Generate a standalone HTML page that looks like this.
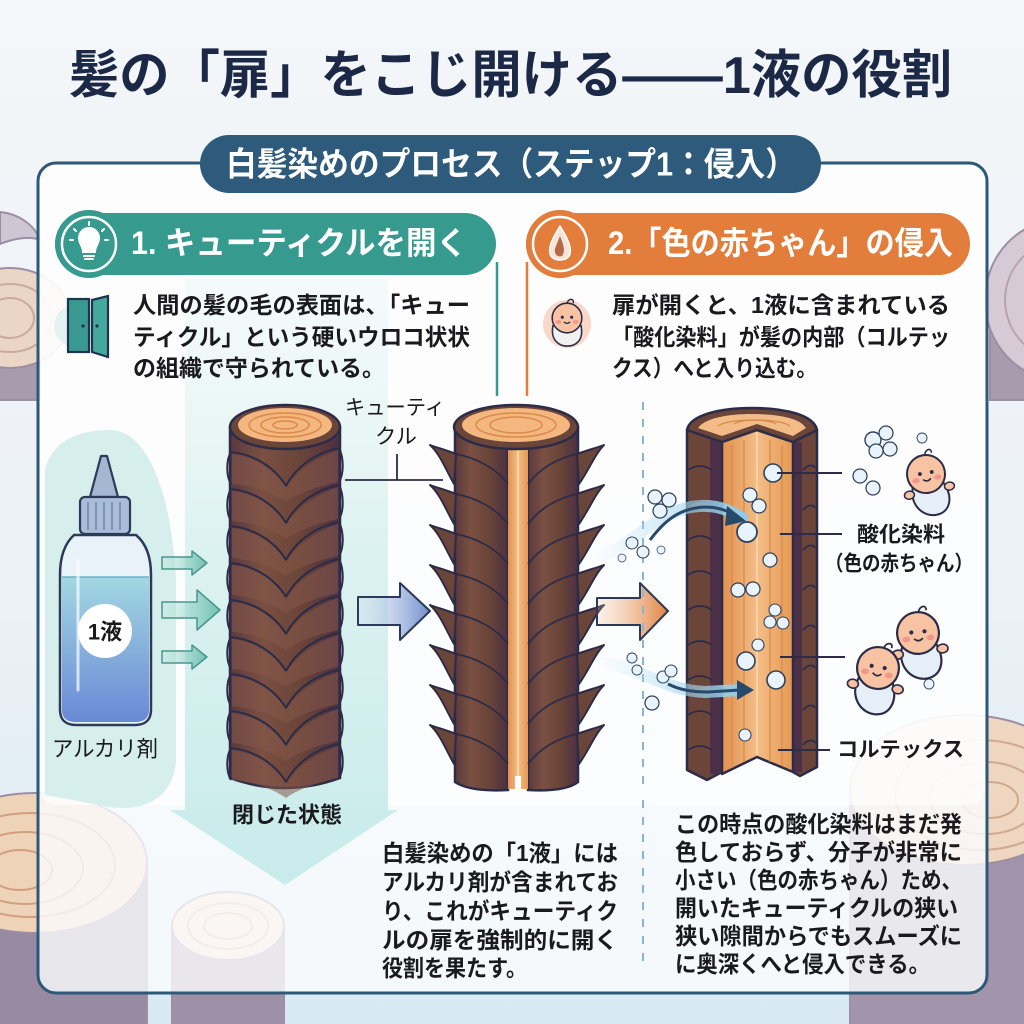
<!DOCTYPE html>
<html><head><meta charset="utf-8">
<style>
html,body{margin:0;padding:0;background:#eef3f7;}
svg{display:block;}
text{font-family:"Liberation Sans","Noto Sans CJK JP",sans-serif;}
</style></head>
<body>
<svg width="1024" height="1024" viewBox="0 0 1024 1024" xmlns="http://www.w3.org/2000/svg">
<defs>
  <linearGradient id="bg" x1="0" y1="0" x2="0" y2="1">
    <stop offset="0" stop-color="#f4f6f9"/><stop offset="0.6" stop-color="#ebf1f6"/><stop offset="1" stop-color="#d8e9f3"/>
  </linearGradient>
  <linearGradient id="bark" x1="0" y1="0" x2="1" y2="0">
    <stop offset="0" stop-color="#5a3a3e"/><stop offset="0.3" stop-color="#7a5042"/><stop offset="0.65" stop-color="#6a4438"/><stop offset="1" stop-color="#4c3042"/>
  </linearGradient>
  <linearGradient id="core" x1="0" y1="0" x2="1" y2="0">
    <stop offset="0" stop-color="#e2914f"/><stop offset="0.5" stop-color="#f4bd86"/><stop offset="1" stop-color="#e59853"/>
  </linearGradient>
  <linearGradient id="shaft" x1="0" y1="0" x2="0" y2="1">
    <stop offset="0" stop-color="#e8f6f6" stop-opacity="0.4"/><stop offset="0.45" stop-color="#dcf2f0"/><stop offset="1" stop-color="#c8ebeb"/>
  </linearGradient>
  <linearGradient id="liquid" x1="0" y1="0" x2="0" y2="1">
    <stop offset="0" stop-color="#a2d8e2"/><stop offset="1" stop-color="#6a88d6"/>
  </linearGradient>
  <linearGradient id="tarr" x1="0" y1="0" x2="1" y2="0">
    <stop offset="0" stop-color="#a8e0d4" stop-opacity="0.2"/><stop offset="1" stop-color="#6fc0b0"/>
  </linearGradient>
  <linearGradient id="barr" x1="0" y1="0" x2="1" y2="0">
    <stop offset="0" stop-color="#c9d6ee" stop-opacity="0.2"/><stop offset="1" stop-color="#6f8ccc"/>
  </linearGradient>
  <linearGradient id="oarr" x1="0" y1="0" x2="1" y2="0">
    <stop offset="0" stop-color="#f3c49c" stop-opacity="0.2"/><stop offset="1" stop-color="#e0813f"/>
  </linearGradient>
  <linearGradient id="swoosh" x1="0" y1="0" x2="1" y2="0">
    <stop offset="0" stop-color="#bfe3f5" stop-opacity="0"/><stop offset="1" stop-color="#8fcbe8"/>
  </linearGradient>
  <g id="r1">
    <path d="M232,2 C252,4 274,16 286,36 C296,20 314,6 338,-2 L338,30 C320,34 300,40 286,50 C272,40 252,34 232,32 Z" fill="#85584a" opacity="0.55"/>
    <path d="M231,0 C252,2 274,14 286,34" fill="none" stroke="#2c2c48" stroke-width="2"/>
    <path d="M339,-4 C318,0 297,13 286,34" fill="none" stroke="#2c2c48" stroke-width="2"/>
    <path d="M231,0 C226,8 226,24 231,32" fill="none" stroke="#2c2c48" stroke-width="2"/>
    <path d="M339,-4 C344,6 344,22 339,30" fill="none" stroke="#2c2c48" stroke-width="2"/>
  </g>
  <g id="r2">
    <path d="M456,2 C446,-2 438,-4 430,-7 C440,2 445,16 454,32 Z" fill="#6b4539" stroke="#2c2c48" stroke-width="2" stroke-linejoin="round"/>
    <path d="M508,32 C496,16 476,6 456,2" fill="none" stroke="#2c2c48" stroke-width="1.8"/>
    <path d="M577,2 C588,-2 596,-4 604,-7 C595,2 590,16 579,32 Z" fill="#6b4539" stroke="#2c2c48" stroke-width="2" stroke-linejoin="round"/>
    <path d="M528,32 C540,16 558,6 577,2" fill="none" stroke="#2c2c48" stroke-width="1.8"/>
  </g>
  <g id="baby">
    <path d="M-15,10 C-22,28 -10,42 3,42 C17,42 24,28 15,10 Z" fill="#e6eef8" stroke="#2c2c48" stroke-width="2"/>
    <ellipse cx="-20" cy="18" rx="5" ry="4" fill="#f7c3a3" stroke="#2c2c48" stroke-width="1.5"/>
    <ellipse cx="21" cy="16" rx="5" ry="4" fill="#f7c3a3" stroke="#2c2c48" stroke-width="1.5"/>
    <circle r="19" fill="#f7c3a3" stroke="#2c2c48" stroke-width="2"/>
    <path d="M2,-19 C4,-25 10,-25 9,-20" fill="none" stroke="#2c2c48" stroke-width="1.6"/>
    <ellipse cx="-11" cy="5" rx="3.6" ry="2.6" fill="#f2968b"/>
    <ellipse cx="11" cy="5" rx="3.6" ry="2.6" fill="#f2968b"/>
    <circle cx="-6" cy="-1" r="1.9" fill="#2c2c48"/>
    <circle cx="6" cy="-1" r="1.9" fill="#2c2c48"/>
    <path d="M-4,5 Q0,9 4,5" fill="none" stroke="#2c2c48" stroke-width="1.6"/>
  </g>
  <g id="bub"><circle r="1" fill="#e8f3fb" stroke="#30425e" stroke-width="0.18"/></g>
</defs>

<!-- background -->
<rect width="1024" height="1024" fill="url(#bg)"/>

<!-- background logs -->
<g stroke="#9d8ea3" stroke-width="2">
  <path d="M0,212 C20,214 35,226 40,240 C30,236 15,238 0,244 Z" fill="#cfc6d4"/>
  <rect x="-60" y="318" width="100" height="82" fill="#a99bae"/>
  <ellipse cx="10" cy="318" rx="60" ry="50" fill="#ead5c6"/>
  <ellipse cx="10" cy="318" rx="42" ry="34" fill="none" stroke="#c9aa9c"/>
  <ellipse cx="10" cy="318" rx="24" ry="20" fill="none" stroke="#c9aa9c"/>
  <rect x="990" y="300" width="60" height="100" fill="#a99bae"/>
  <ellipse cx="1060" cy="300" rx="75" ry="80" fill="#d6cad6"/>
  <ellipse cx="1060" cy="300" rx="55" ry="58" fill="none" stroke="#b8a2b0"/>
  <ellipse cx="1060" cy="300" rx="35" ry="38" fill="none" stroke="#b8a2b0"/>
  <ellipse cx="1060" cy="300" rx="18" ry="20" fill="none" stroke="#b8a2b0"/>
  <!-- bottom right stump -->
  <rect x="850" y="790" width="200" height="240" fill="#a294ab"/>
  <ellipse cx="965" cy="790" rx="115" ry="75" fill="#efd6c0"/>
  <ellipse cx="980" cy="795" rx="85" ry="55" fill="none" stroke="#d0a98e"/>
  <ellipse cx="985" cy="798" rx="55" ry="36" fill="none" stroke="#d0a98e"/>
  <ellipse cx="990" cy="800" rx="28" ry="18" fill="none" stroke="#d0a98e"/>
  <!-- bottom left big stump -->
  <rect x="-80" y="863" width="227" height="170" fill="#988aa2"/>
  <ellipse cx="35" cy="863" rx="112" ry="70" fill="#efd3b8"/>
  <ellipse cx="30" cy="865" rx="85" ry="52" fill="none" stroke="#d19f80"/>
  <ellipse cx="25" cy="868" rx="58" ry="36" fill="none" stroke="#d19f80"/>
  <ellipse cx="20" cy="870" rx="32" ry="20" fill="none" stroke="#d19f80"/>
  <!-- second stump -->
  <rect x="172" y="926" width="112" height="110" fill="#9e90a6"/>
  <ellipse cx="228" cy="926" rx="56" ry="34" fill="#f0dac6"/>
  <ellipse cx="228" cy="926" rx="40" ry="23" fill="none" stroke="#d4aa90"/>
  <ellipse cx="228" cy="926" rx="24" ry="13" fill="none" stroke="#d4aa90"/>
</g>

<!-- main panel -->
<rect x="38" y="163" width="949" height="830" rx="18" fill="#fbfdfe" fill-opacity="0.8" stroke="#2d5878" stroke-width="3"/>
<rect x="40" y="165" width="945" height="640" rx="16" fill="#ffffff" fill-opacity="0.6"/>

<!-- teal blob behind bottle -->
<path d="M110,430 C150,430 172,500 176,580 L176,760 C174,800 140,815 100,805 L45,795 L45,470 C52,440 80,430 110,430 Z" fill="#d6eeec"/>

<!-- big light arrow -->
<path d="M185,278 L388,278 L388,810 L398,810 L285,885 L170,810 L185,810 Z" fill="url(#shaft)"/>

<!-- title -->
<text x="69" y="76" font-size="52" font-weight="700" fill="#1b2946" dominant-baseline="central" textLength="883" lengthAdjust="spacingAndGlyphs">髪の「扉」をこじ開ける——1液の役割</text>

<!-- pill -->
<rect x="200" y="135" width="621" height="58" rx="29" fill="#2e5b7b"/>
<text x="226" y="164" font-size="33" font-weight="700" fill="#ffffff" dominant-baseline="central" textLength="570" lengthAdjust="spacingAndGlyphs">白髪染めのプロセス（ステップ1：侵入）</text>

<!-- teal header -->
<rect x="55" y="213" width="441" height="62" rx="31" fill="#379a8f"/>
<circle cx="89" cy="244" r="34" fill="#379a8f"/>
<circle cx="89" cy="244" r="27" fill="none" stroke="#ffffff" stroke-width="2.5"/>
<g stroke="#ffffff" stroke-width="2" fill="none" stroke-linecap="round">
  <path d="M83,252 C83,246 79,244 79,238 A10,10 0 0 1 99,238 C99,244 95,246 95,252 Z" fill="#ffffff"/>
  <path d="M84,256 L94,256 M85,259 L93,259"/>
  <path d="M89,222 L89,225 M74,229 L76,231 M104,229 L102,231 M70,240 L73,240 M108,240 L105,240"/>
</g>
<text x="131" y="243" font-size="32" font-weight="700" fill="#ffffff" dominant-baseline="central" textLength="336" lengthAdjust="spacingAndGlyphs">1. キューティクルを開く</text>
<line x1="497" y1="262" x2="497" y2="396" stroke="#379a8f" stroke-width="2.5"/>

<!-- orange header -->
<rect x="526" y="213" width="444" height="62" rx="31" fill="#e27d3c"/>
<circle cx="560" cy="244" r="34" fill="#e27d3c"/>
<circle cx="560" cy="244" r="27" fill="none" stroke="#ffffff" stroke-width="2.5"/>
<path d="M560,226 C566,236 572,246 570,254 C568,262 552,262 550,254 C548,246 554,236 560,226 Z" fill="#f7e4d6" stroke="#ffffff" stroke-width="1.5"/>
<path d="M560,236 C563,244 566,250 562,256 C556,258 553,252 556,246 Z" fill="#b56a45"/>
<text x="608" y="243" font-size="32" font-weight="700" fill="#ffffff" dominant-baseline="central" textLength="345" lengthAdjust="spacingAndGlyphs">2.「色の赤ちゃん」の侵入</text>
<line x1="527" y1="262" x2="527" y2="396" stroke="#e27d3c" stroke-width="2.5"/>

<!-- door icon -->
<circle cx="75" cy="326" r="21" fill="#d6eeec" opacity="0.7"/>
<rect x="68" y="299" width="21" height="53" fill="#3a9a91" stroke="#1f3350" stroke-width="2.2"/>
<path d="M92,300 L108,296 L108,357 L92,352 Z" fill="#45a89d" stroke="#1f3350" stroke-width="2.2"/>
<circle cx="83" cy="326" r="1.6" fill="#1f3350"/><circle cx="97" cy="326" r="1.6" fill="#1f3350"/>

<!-- baby icon -->
<circle cx="567" cy="324" r="24" fill="#f9d8ca"/>
<g transform="translate(567,318) scale(0.78)">
  <path d="M-18,10 C-22,30 -8,36 0,36 C10,36 22,30 18,10 Z" fill="#f1f1f1" stroke="#2c2c48" stroke-width="2"/>
  <circle r="19" fill="#f7c3a3" stroke="#2c2c48" stroke-width="2"/>
  <path d="M0,-19 C2,-26 10,-25 8,-19" fill="none" stroke="#2c2c48" stroke-width="1.8"/>
  <ellipse cx="-11" cy="5" rx="3.6" ry="2.6" fill="#f2968b"/>
  <ellipse cx="11" cy="5" rx="3.6" ry="2.6" fill="#f2968b"/>
  <circle cx="-6" cy="-1" r="2" fill="#2c2c48"/><circle cx="6" cy="-1" r="2" fill="#2c2c48"/>
  <path d="M-4,5 Q0,9 4,5" fill="none" stroke="#2c2c48" stroke-width="1.7"/>
</g>

<!-- paragraphs top -->
<g font-size="23" font-weight="700" fill="#1a1a1e">
  <text x="133" y="305" dominant-baseline="central" textLength="337" lengthAdjust="spacingAndGlyphs">人間の髪の毛の表面は、「キュー</text>
  <text x="133" y="337" dominant-baseline="central" textLength="337" lengthAdjust="spacingAndGlyphs">ティクル」という硬いウロコ状状</text>
  <text x="133" y="368" dominant-baseline="central" textLength="252" lengthAdjust="spacingAndGlyphs">の組織で守られている。</text>
  <text x="612" y="305" dominant-baseline="central" textLength="338" lengthAdjust="spacingAndGlyphs">扉が開くと、1液に含まれている</text>
  <text x="612" y="337" dominant-baseline="central" textLength="338" lengthAdjust="spacingAndGlyphs">「酸化染料」が髪の内部（コルテッ</text>
  <text x="612" y="368" dominant-baseline="central" textLength="205" lengthAdjust="spacingAndGlyphs">クス）へと入り込む。</text>
</g>

<!-- bottle -->
<path d="M101,456 L107,456 L118,497 L90,497 Z" fill="#a3b6d2" stroke="#2c3a5a" stroke-width="2.2" stroke-linejoin="round"/>
<rect x="80" y="497" width="50" height="37" rx="5" fill="#a9bdd8" stroke="#2c3a5a" stroke-width="2.2"/>
<g stroke="#6f84a6" stroke-width="1.5"><line x1="88" y1="502" x2="88" y2="530"/><line x1="96" y1="502" x2="96" y2="530"/><line x1="104" y1="502" x2="104" y2="530"/><line x1="112" y1="502" x2="112" y2="530"/><line x1="120" y1="502" x2="120" y2="530"/></g>
<path d="M74,535 L136,535 C148,545 151,560 151,575 L151,710 C151,720 145,725 135,725 L76,725 C66,725 60,720 60,710 L60,575 C60,560 63,545 74,535 Z" fill="#e8f2f8" stroke="#2c3a5a" stroke-width="2.5"/>
<path d="M62,577 L149,577 L149,710 C149,718 144,722 135,722 L76,722 C67,722 62,718 62,710 Z" fill="url(#liquid)"/>
<line x1="62" y1="577" x2="149" y2="577" stroke="#6fb2c8" stroke-width="1.5"/>
<line x1="78" y1="560" x2="78" y2="690" stroke="#ffffff" stroke-width="3" opacity="0.7" stroke-linecap="round"/>
<circle cx="105" cy="631" r="27" fill="#ffffff"/>
<text x="105" y="632" font-size="22" font-weight="700" fill="#1a1a1e" text-anchor="middle" dominant-baseline="central">1液</text>
<text x="52" y="749" font-size="22" fill="#1a1a1e" dominant-baseline="central" textLength="106" lengthAdjust="spacingAndGlyphs">アルカリ剤</text>

<!-- small teal arrows -->
<path d="M162,557 L192,557 L192,551 L207,563 L192,575 L192,569 L162,569 Z" fill="url(#tarr)" stroke="#4a9590" stroke-width="1.5" stroke-linejoin="round"/>
<path d="M162,602 L197,602 L197,590 L220,610 L197,630 L197,618 L162,618 Z" fill="url(#tarr)" stroke="#4a9590" stroke-width="1.5" stroke-linejoin="round"/>
<path d="M162,651 L192,651 L192,645 L207,657 L192,669 L192,663 L162,663 Z" fill="url(#tarr)" stroke="#4a9590" stroke-width="1.5" stroke-linejoin="round"/>

<!-- LOG 1 -->
<path d="M230,427 L230,778 Q285,798 340,778 L340,427 Z" fill="url(#bark)" stroke="#2c2c48" stroke-width="2.5"/>
<use href="#r1" y="452"/><use href="#r1" y="489"/><use href="#r1" y="526"/><use href="#r1" y="563"/><use href="#r1" y="600"/><use href="#r1" y="637"/><use href="#r1" y="674"/><use href="#r1" y="711"/><use href="#r1" y="748"/>
<ellipse cx="285" cy="427" rx="55" ry="22" fill="#6b4539" stroke="#2c2c48" stroke-width="2.5"/>
<ellipse cx="285" cy="425" rx="47" ry="17" fill="#f3b77f"/>
<g fill="none" stroke="#d98a4c" stroke-width="1.5"><ellipse cx="285" cy="425" rx="36" ry="12"/><ellipse cx="285" cy="425" rx="24" ry="8"/><ellipse cx="285" cy="425" rx="12" ry="4"/></g>

<!-- cuticle label -->
<text x="345" y="408" font-size="21" fill="#1a1a1e" dominant-baseline="central" textLength="100" lengthAdjust="spacingAndGlyphs">キューティ</text>
<text x="375" y="437" font-size="21" fill="#1a1a1e" dominant-baseline="central" textLength="42" lengthAdjust="spacingAndGlyphs">クル</text>
<path d="M397,454 L397,480 M345,480 L443,480" stroke="#2c2c48" stroke-width="1.8" fill="none"/>

<!-- blue arrow -->
<path d="M358,597 L400,597 L400,583 L430,611 L400,640 L400,625 L358,625 Z" fill="url(#barr)" stroke="#2c3a5a" stroke-width="2" stroke-linejoin="round"/>

<!-- LOG 2 -->
<path d="M455,427 L455,782 Q470,792 508,790 L508,427 Z" fill="url(#bark)" stroke="#2c2c48" stroke-width="2.5"/>
<path d="M528,427 L528,790 Q565,792 578,782 L578,427 Z" fill="url(#bark)" stroke="#2c2c48" stroke-width="2.5"/>
<rect x="508" y="427" width="20" height="362" fill="url(#core)"/>
<line x1="518" y1="435" x2="518" y2="782" stroke="#f8d2a8" stroke-width="2"/>
<use href="#r2" y="452"/><use href="#r2" y="492"/><use href="#r2" y="532"/><use href="#r2" y="572"/><use href="#r2" y="612"/><use href="#r2" y="652"/><use href="#r2" y="692"/><use href="#r2" y="732"/>
<rect x="515" y="776" width="6" height="16" fill="#ffffff"/>
<ellipse cx="516" cy="427" rx="62" ry="22" fill="#6b4539" stroke="#2c2c48" stroke-width="2.5"/>
<ellipse cx="516" cy="425" rx="54" ry="17" fill="#f3b77f"/>
<g fill="none" stroke="#d98a4c" stroke-width="1.5"><ellipse cx="516" cy="425" rx="40" ry="12"/><ellipse cx="516" cy="425" rx="26" ry="8"/></g>

<!-- orange arrow -->
<path d="M597,598 L640,598 L640,583 L668,611 L640,640 L640,625 L597,625 Z" fill="url(#oarr)" stroke="#2c3a5a" stroke-width="2" stroke-linejoin="round"/>

<!-- dashed divider -->
<line x1="643" y1="402" x2="643" y2="790" stroke="#86b6d3" stroke-width="2" stroke-dasharray="8 9"/>
<line x1="643" y1="800" x2="643" y2="966" stroke="#86b6d3" stroke-width="2" stroke-dasharray="8 9"/>

<!-- LOG 3 -->
<path d="M687,430 L722,442 L722,772 L707,780 L687,770 Z" fill="#6b4539" stroke="#2c2c48" stroke-width="2.5" stroke-linejoin="round"/>
<rect x="710" y="440" width="12" height="334" fill="#4c3048"/>
<path d="M793,442 L817,430 L817,767 L800,776 L793,772 Z" fill="#6b4539" stroke="#2c2c48" stroke-width="2.5" stroke-linejoin="round"/>
<rect x="793" y="442" width="9" height="330" fill="#4c3048"/>
<path d="M722,442 L757,430 L793,442 L793,772 L757,757 L722,774 Z" fill="url(#core)" stroke="#2c2c48" stroke-width="2.5" stroke-linejoin="round"/>
<g stroke="#d9884a" stroke-width="1.2"><line x1="732" y1="445" x2="732" y2="768"/><line x1="744" y1="440" x2="744" y2="762"/><line x1="770" y1="440" x2="770" y2="762"/><line x1="782" y1="445" x2="782" y2="766"/></g>
<line x1="757" y1="432" x2="757" y2="755" stroke="#f8d2a8" stroke-width="2"/>
<g fill="none" stroke="#2c2c48" stroke-width="1.8">
  <path d="M688,470 Q700,462 712,470"/><path d="M688,505 Q700,497 712,505"/><path d="M688,540 Q700,532 712,540"/><path d="M688,575 Q700,567 712,575"/><path d="M688,610 Q700,602 712,610"/><path d="M688,645 Q700,637 712,645"/><path d="M688,680 Q700,672 712,680"/><path d="M688,715 Q700,707 712,715"/><path d="M688,750 Q700,742 712,750"/>
  <path d="M803,470 Q810,462 816,468"/><path d="M803,510 Q810,502 816,508"/><path d="M803,550 Q810,542 816,548"/><path d="M803,590 Q810,582 816,588"/><path d="M803,630 Q810,622 816,628"/><path d="M803,670 Q810,662 816,668"/><path d="M803,710 Q810,702 816,708"/><path d="M803,745 Q810,737 816,743"/>
</g>
<path d="M687,430 C690,415 720,408 752,408 C785,408 814,415 817,430 L793,442 L757,430 L722,442 Z" fill="#6b4539" stroke="#2c2c48" stroke-width="2.5" stroke-linejoin="round"/>
<path d="M698,428 C705,418 728,414 752,414 C778,414 800,418 806,428 L793,436 L757,424 L722,436 Z" fill="#f3bb85"/>
<g fill="none" stroke="#d98a4c" stroke-width="1.3"><path d="M718,426 C728,418 780,418 790,426"/><path d="M734,424 C742,419 768,419 776,424"/></g>

<!-- swoosh arrows -->
<path d="M592,558 C630,552 655,508 700,506 C720,505 732,512 742,518" fill="none" stroke="url(#swoosh)" stroke-width="12" stroke-linecap="round"/>
<path d="M650,540 C665,520 680,508 705,507 C720,507 730,512 738,517" fill="none" stroke="#27496a" stroke-width="3"/>
<path d="M727,506 L746,521 L725,526 Z" fill="#27496a"/>
<path d="M596,662 C640,666 662,690 705,692 L742,690" fill="none" stroke="url(#swoosh)" stroke-width="12" stroke-linecap="round"/>
<path d="M668,684 C680,690 692,692 708,692 L740,690" fill="none" stroke="#27496a" stroke-width="3"/>
<path d="M737,680 L754,690 L737,700 Z" fill="#27496a"/>

<!-- bubbles -->
<g>
  <use href="#bub" transform="translate(655,497) scale(7)"/><use href="#bub" transform="translate(669,500) scale(7)"/><use href="#bub" transform="translate(660,511) scale(7)"/>
  <use href="#bub" transform="translate(632,543) scale(6)"/><use href="#bub" transform="translate(643,552) scale(6)"/><use href="#bub" transform="translate(661,550) scale(4)"/><use href="#bub" transform="translate(622,558) scale(4)"/>
  <use href="#bub" transform="translate(773,473) scale(9)"/>
  <use href="#bub" transform="translate(750,495) scale(7)"/><use href="#bub" transform="translate(759,506) scale(7)"/>
  <use href="#bub" transform="translate(747,532) scale(10)"/>
  <use href="#bub" transform="translate(770,560) scale(7)"/>
  <use href="#bub" transform="translate(738,590) scale(7)"/><use href="#bub" transform="translate(753,589) scale(7)"/>
  <use href="#bub" transform="translate(775,610) scale(6)"/><use href="#bub" transform="translate(770,622) scale(6)"/><use href="#bub" transform="translate(783,623) scale(6)"/>
  <use href="#bub" transform="translate(758,645) scale(6)"/><use href="#bub" transform="translate(746,661) scale(9)"/>
  <use href="#bub" transform="translate(776,680) scale(9)"/>
  <use href="#bub" transform="translate(745,735) scale(6)"/>
  <use href="#bub" transform="translate(632,658) scale(5)"/><use href="#bub" transform="translate(637,670) scale(5)"/>
  <use href="#bub" transform="translate(663,677) scale(6)"/><use href="#bub" transform="translate(671,671) scale(6)"/>
  <use href="#bub" transform="translate(652,703) scale(7)"/>
  <use href="#bub" transform="translate(873,440) scale(8)"/><use href="#bub" transform="translate(886,433) scale(7)"/><use href="#bub" transform="translate(890,449) scale(7)"/><use href="#bub" transform="translate(876,451) scale(7)"/>
  <use href="#bub" transform="translate(922,438) scale(5)"/>
  <use href="#bub" transform="translate(860,476) scale(7)"/><use href="#bub" transform="translate(873,488) scale(7)"/>
  <use href="#bub" transform="translate(929,684) scale(5)"/>
</g>

<!-- babies -->
<use href="#baby" transform="translate(926,474) rotate(-10)"/>
<use href="#baby" transform="translate(918,633) rotate(-5) scale(1.1)"/>
<use href="#baby" transform="translate(878,668) rotate(10) scale(1.1)"/>

<!-- right labels -->
<g stroke="#2c2c48" stroke-width="2">
  <line x1="777" y1="473" x2="842" y2="473"/>
  <line x1="780" y1="534" x2="842" y2="534"/>
  <line x1="780" y1="657" x2="845" y2="657"/>
  <line x1="778" y1="750" x2="830" y2="750"/>
</g>
<g font-size="21" font-weight="700" fill="#1a1a1e">
  <text x="857" y="535" dominant-baseline="central" textLength="88" lengthAdjust="spacingAndGlyphs">酸化染料</text>
  <text x="825" y="564" dominant-baseline="central" textLength="148" lengthAdjust="spacingAndGlyphs">（色の赤ちゃん）</text>
  <text x="837" y="750" dominant-baseline="central" textLength="127" lengthAdjust="spacingAndGlyphs">コルテックス</text>
</g>

<!-- closed state label -->
<text x="232" y="815" font-size="22" font-weight="700" fill="#1a1a1e" dominant-baseline="central" textLength="110" lengthAdjust="spacingAndGlyphs">閉じた状態</text>

<!-- bottom paragraphs -->
<g font-size="23" font-weight="700" fill="#1a1a1e">
  <text x="382" y="853" dominant-baseline="central" textLength="236" lengthAdjust="spacingAndGlyphs">白髪染めの「1液」には</text>
  <text x="382" y="882" dominant-baseline="central" textLength="236" lengthAdjust="spacingAndGlyphs">アルカリ剤が含まれてお</text>
  <text x="382" y="911" dominant-baseline="central" textLength="236" lengthAdjust="spacingAndGlyphs">り、これがキューティク</text>
  <text x="382" y="940" dominant-baseline="central" textLength="236" lengthAdjust="spacingAndGlyphs">ルの扉を強制的に開く</text>
  <text x="382" y="968" dominant-baseline="central" textLength="145" lengthAdjust="spacingAndGlyphs">役割を果たす。</text>

  <text x="675" y="824" dominant-baseline="central" textLength="287" lengthAdjust="spacingAndGlyphs">この時点の酸化染料はまだ発</text>
  <text x="675" y="852" dominant-baseline="central" textLength="287" lengthAdjust="spacingAndGlyphs">色しておらず、分子が非常に</text>
  <text x="675" y="880" dominant-baseline="central" textLength="287" lengthAdjust="spacingAndGlyphs">小さい（色の赤ちゃん）ため、</text>
  <text x="675" y="908" dominant-baseline="central" textLength="283" lengthAdjust="spacingAndGlyphs">開いたキューティクルの狭い</text>
  <text x="675" y="936" dominant-baseline="central" textLength="287" lengthAdjust="spacingAndGlyphs">狭い隙間からでもスムーズに</text>
  <text x="675" y="964" dominant-baseline="central" textLength="255" lengthAdjust="spacingAndGlyphs">に奥深くへと侵入できる。</text>
</g>
</svg>
</body></html>
